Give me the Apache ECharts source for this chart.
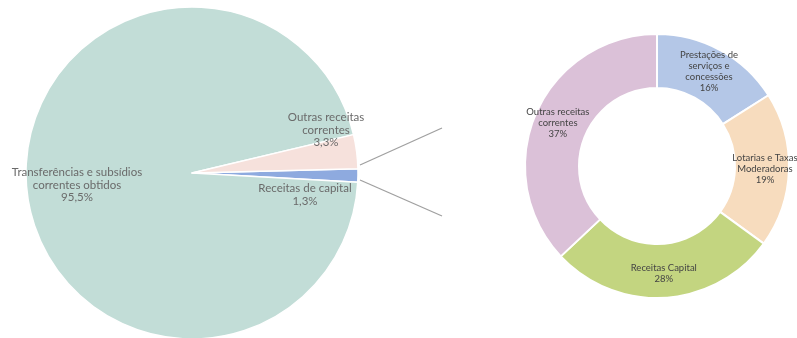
<!DOCTYPE html>
<html>
<head>
<meta charset="utf-8">
<script src="https://cdn.jsdelivr.net/npm/echarts@6/dist/echarts.min.js"></script>
<style>
html,body{margin:0;padding:0;background:#fff;}
#c{width:797px;height:338px;}
</style>
</head>
<body>
<div id="c"></div>
<script>
// Left pie data
const leftNames = ['Receitas de capital', 'Transferências e subsídios\ncorrentes obtidos', 'Outras receitas\ncorrentes'];
const leftValues = [1.3, 95.5, 3.3];
const leftColors = ['#8eaadf', '#c2ddd7', '#f6e1dc'];

// Right donut data
const rightNames = ['Prestações de\nserviços e\nconcessões', 'Lotarias e Taxas\nModeradoras', 'Receitas Capital', 'Outras receitas\ncorrentes'];
const rightValues = [16, 19, 28, 37];
const rightColors = ['#b4c7e7', '#f7dcbe', '#c3d580', '#dbc1d8'];

const FONT = 'Lato, "Open Sans", sans-serif';
const L = {cx: 192, cy: 173, r: 166};
// label anchor positions (layout only)
const leftLabelAt = [[305, 195], [77, 185], [326, 130]];

const chart = echarts.init(document.getElementById('c'), null, {renderer: 'canvas'});
chart.setOption({
  animation: false,
  series: [
    {
      type: 'pie',
      center: [L.cx, L.cy],
      radius: L.r,
      startAngle: 1.5,
      clockwise: true,
      itemStyle: {borderColor: '#fff', borderWidth: 1.5},
      label: {
        show: true,
        position: 'inside',
        fontFamily: FONT,
        fontSize: 11.5,
        lineHeight: 12.5,
        color: '#6a6a6a',
        align: 'center',
        formatter: p => p.name + '\n' + String(p.value).replace('.', ',') + '%'
      },
      labelLine: {show: false},
      labelLayout: p => ({x: leftLabelAt[p.dataIndex][0], y: leftLabelAt[p.dataIndex][1], align: 'center', verticalAlign: 'middle'}),
      emphasis: {disabled: true},
      data: leftNames.map((n, i) => ({name: n, value: leftValues[i], itemStyle: {color: leftColors[i]}}))
    },
    {
      type: 'pie',
      center: [657, 166],
      radius: [78, 132],
      startAngle: 90,
      clockwise: true,
      itemStyle: {borderColor: '#fff', borderWidth: 2},
      label: {
        show: true,
        position: 'inside',
        fontFamily: FONT,
        fontSize: 9.5,
        lineHeight: 11,
        color: '#444',
        align: 'center',
        formatter: p => p.name + '\n' + p.value + '%'
      },
      labelLine: {show: false},
      emphasis: {disabled: true},
      data: rightNames.map((n, i) => ({name: n, value: rightValues[i], itemStyle: {color: rightColors[i]}}))
    }
  ],
  graphic: [
    {type: 'line', shape: {x1: 360, y1: 165, x2: 442, y2: 128}, style: {stroke: '#a0a0a0', lineWidth: 1.3}},
    {type: 'line', shape: {x1: 360, y1: 180, x2: 442, y2: 216}, style: {stroke: '#a0a0a0', lineWidth: 1.3}}
  ]
});
</script>
</body>
</html>
